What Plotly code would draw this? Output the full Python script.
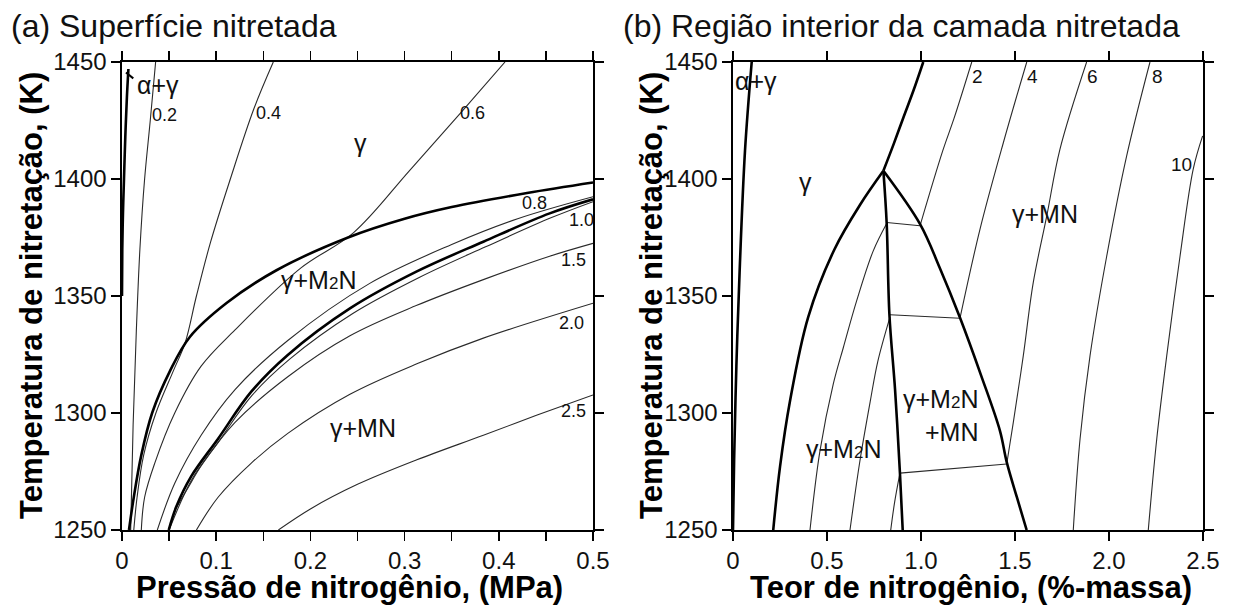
import plotly.graph_objects as go

# ---------------- Panel (a): pressure (MPa) vs temperature (K) ----------------
a_alpha_x = [0.0068, 0.0052, 0.0035, 0.0021, 0.0010, 0.0003, 0.0]
a_alpha_T = [1447, 1435, 1418, 1400, 1385, 1370, 1350]

a_c02_x = [0.0357, 0.0300, 0.0240, 0.0190, 0.0152, 0.0118, 0.0092]
a_c02_T = [1450, 1425, 1400, 1370, 1335, 1295, 1250]

a_c04_x = [0.1606, 0.1400, 0.1150, 0.0940, 0.0790, 0.0670, 0.0545, 0.0360, 0.0230, 0.0160, 0.0125]
a_c04_T = [1450, 1430, 1400, 1373, 1350, 1330, 1318, 1300, 1282, 1264, 1250]

a_c06_x = [0.4066, 0.3600, 0.3050, 0.2456, 0.1900, 0.1200, 0.0840, 0.0560, 0.0347, 0.0240, 0.0205]
a_c06_T = [1450, 1428.5, 1403.5, 1377, 1362, 1335.5, 1320, 1300, 1278.5, 1264, 1250]

a_c08_x = [0.5, 0.42, 0.35, 0.263, 0.176, 0.120, 0.084, 0.056, 0.0375]
a_c08_T = [1392.4, 1383, 1372, 1355.4, 1331, 1310, 1290.5, 1270, 1250]

a_c10_x = [0.0500, 0.0740, 0.1030, 0.1380, 0.1780, 0.2450, 0.3160, 0.3860, 0.4560, 0.5]
a_c10_T = [1250, 1271.5, 1288, 1307.5, 1323, 1342.5, 1358, 1371, 1383.5, 1390.3]

a_c15_x = [0.0577, 0.0700, 0.0850, 0.1200, 0.1760, 0.2420, 0.3130, 0.3836, 0.4540, 0.5]
a_c15_T = [1259.5, 1268, 1278, 1296, 1315.5, 1333, 1346, 1357, 1367, 1372.5]

a_c20_x = [0.079, 0.102, 0.137, 0.176, 0.242, 0.313, 0.3836, 0.5]
a_c20_T = [1250, 1264, 1278.5, 1291.3, 1308, 1321, 1332, 1346.9]

a_c25_x = [0.166, 0.200, 0.250, 0.313, 0.3836, 0.440, 0.5]
a_c25_T = [1250, 1259, 1269.5, 1280, 1290.5, 1299, 1307.7]

a_gb1_x = [0.0074, 0.0125, 0.0205, 0.0320, 0.0510, 0.0720, 0.1110, 0.1640, 0.2400, 0.3000, 0.3500, 0.4300, 0.5]
a_gb1_T = [1250, 1264, 1282, 1300, 1318, 1332.5, 1347, 1361, 1375, 1383, 1388, 1394, 1398.5]

a_gb2_x = [0.0496, 0.0577, 0.0736, 0.102, 0.137, 0.176, 0.242, 0.313, 0.3836, 0.454, 0.5]
a_gb2_T = [1250, 1260, 1273, 1289, 1309, 1324.8, 1344.7, 1360.5, 1373.2, 1385.3, 1391.3]

a_mark_x = [0.0042, 0.0120]
a_mark_T = [1445.5, 1443.0]

a_num_text = ["0.2", "0.4", "0.6", "0.8", "1.0", "1.5", "2.0", "2.5"]
a_num_x = [0.0456, 0.155, 0.3726, 0.4384, 0.4883, 0.4788, 0.4777, 0.4788]
a_num_T = [1427.3, 1428.2, 1428.2, 1389.7, 1382.5, 1365.4, 1338.5, 1300.8]

a_phase_text = ["α+γ", "γ", "γ+M<span style='font-size:17px'>2</span>N", "γ+MN"]
a_phase_x = [0.0377, 0.2527, 0.2084, 0.2562]
a_phase_T = [1440.2, 1415.3, 1356.8, 1293.4]

a_ticks = [0, 0.05, 0.1, 0.15, 0.2, 0.25, 0.3, 0.35, 0.4, 0.45, 0.5]
a_ticklabels = ["0", "", "0.1", "", "0.2", "", "0.3", "", "0.4", "", "0.5"]

# ---------------- Panel (b): nitrogen content (mass %) vs temperature ----------------
b_alpha_x = [0.0995, 0.0638, 0.0350, 0.0180, 0.0060, 0.0]
b_alpha_T = [1450, 1412, 1360, 1320, 1280, 1250]

b_top_x = [1.012, 0.959, 0.906, 0.855, 0.80]
b_top_T = [1450, 1437.6, 1426.2, 1415, 1403.5]

b_left_x = [0.80, 0.676, 0.54, 0.40, 0.303, 0.25, 0.214]
b_left_T = [1403.5, 1389, 1370, 1341, 1305, 1277, 1250]

b_right_x = [0.80, 0.995, 1.10, 1.207, 1.32, 1.42, 1.456, 1.51, 1.562]
b_right_T = [1403.5, 1380.7, 1362, 1340.8, 1316, 1292.4, 1279, 1264, 1250]

b_mid_x = [0.80, 0.8175, 0.832, 0.862, 0.888, 0.9027]
b_mid_T = [1403.5, 1381, 1342, 1310, 1274.3, 1250]

b_tie1_x = [0.8175, 0.9947]
b_tie1_T = [1381.4, 1380.0]
b_tie2_x = [0.835, 1.2074]
b_tie2_T = [1342.0, 1340.5]
b_tie3_x = [0.888, 1.456]
b_tie3_T = [1274.3, 1278.2]

b_cA_x = [0.8175, 0.746, 0.658, 0.587, 0.5335, 0.4628, 0.4096]
b_cA_T = [1381, 1369.3, 1348, 1328, 1312.4, 1283.9, 1250]
b_cB_x = [0.835, 0.77, 0.73, 0.675, 0.6223]
b_cB_T = [1341, 1322, 1305, 1279.5, 1250]
b_cC_x = [0.888, 0.86, 0.839]
b_cC_T = [1274.3, 1262, 1250]

b_c2_x = [1.27, 1.176, 1.1154, 0.9947]
b_c2_T = [1450, 1426, 1412, 1380]
b_c4_x = [1.5625, 1.438, 1.314, 1.2074]
b_c4_T = [1450, 1415.5, 1378.6, 1340.5]
b_c6_x = [1.881, 1.739, 1.669, 1.597, 1.544, 1.491, 1.456]
b_c6_T = [1450, 1412.7, 1384.2, 1355.7, 1324.4, 1296, 1278.2]
b_c8_x = [2.218, 2.094, 1.988, 1.899, 1.846, 1.81]
b_c8_T = [1450, 1409.9, 1367.1, 1324.4, 1288.9, 1250]
b_c10_x = [2.498, 2.448, 2.378, 2.307, 2.254, 2.209]
b_c10_T = [1418.4, 1404.2, 1367.1, 1324.4, 1288.9, 1250]

b_num_text = ["2", "4", "6", "8", "10"]
b_num_x = [1.303, 1.593, 1.910, 2.258, 2.387]
b_num_T = [1443.8, 1443.8, 1443.8, 1443.8, 1406.0]

b_phase_text = ["α+γ", "γ", "γ+MN", "γ+M<span style='font-size:17px'>2</span>N"]
b_phase_x = [0.1213, 0.3856, 1.66, 0.5867]
b_phase_T = [1441.9, 1398.7, 1385.1, 1284.6]
b_triple_text = "γ+M<span style='font-size:17px'>2</span>N<br>+MN"
b_triple_x = 1.314
b_triple_T = 1298.8

b_ticks = [0, 0.5, 1.0, 1.5, 2.0, 2.5]
b_ticklabels = ["0", "0.5", "1.0", "1.5", "2.0", "2.5"]

y_ticks = [1250, 1300, 1350, 1400, 1450]

# ---------------- figure ----------------
W, H = 1234, 606
FONT = "Arial, 'Liberation Sans', Helvetica, sans-serif"
THICK = dict(color="#000000", width=2.6)
THIN = dict(color="#2a2a2a", width=1.1)

fig = go.Figure()


def add_line(xs, ys, style, panel):
    ax = "x" if panel == "a" else "x2"
    ay = "y" if panel == "a" else "y2"
    fig.add_trace(go.Scatter(x=xs, y=ys, mode="lines", xaxis=ax, yaxis=ay,
                             line=dict(color=style["color"], width=style["width"],
                                       shape="spline", smoothing=1.0),
                             hoverinfo="skip", showlegend=False))


for xs, ys in [(a_c02_x, a_c02_T), (a_c04_x, a_c04_T), (a_c06_x, a_c06_T),
               (a_c08_x, a_c08_T), (a_c10_x, a_c10_T), (a_c15_x, a_c15_T),
               (a_c20_x, a_c20_T), (a_c25_x, a_c25_T)]:
    add_line(xs, ys, THIN, "a")
for xs, ys in [(a_alpha_x, a_alpha_T), (a_gb1_x, a_gb1_T), (a_gb2_x, a_gb2_T)]:
    add_line(xs, ys, THICK, "a")
add_line(a_mark_x, a_mark_T, dict(color="#000", width=2), "a")

for xs, ys in [(b_tie1_x, b_tie1_T), (b_tie2_x, b_tie2_T), (b_tie3_x, b_tie3_T),
               (b_cA_x, b_cA_T), (b_cB_x, b_cB_T), (b_cC_x, b_cC_T),
               (b_c2_x, b_c2_T), (b_c4_x, b_c4_T), (b_c6_x, b_c6_T),
               (b_c8_x, b_c8_T), (b_c10_x, b_c10_T)]:
    add_line(xs, ys, THIN, "b")
for xs, ys in [(b_alpha_x, b_alpha_T), (b_top_x, b_top_T), (b_left_x, b_left_T),
               (b_right_x, b_right_T), (b_mid_x, b_mid_T)]:
    add_line(xs, ys, THICK, "b")

ann = []
for t, x, y in zip(a_num_text, a_num_x, a_num_T):
    ann.append(dict(text=t, x=x, y=y, xref="x", yref="y", showarrow=False,
                    font=dict(size=18, color="#111", family=FONT)))
for t, x, y in zip(a_phase_text, a_phase_x, a_phase_T):
    ann.append(dict(text=t, x=x, y=y, xref="x", yref="y", showarrow=False,
                    font=dict(size=25, color="#111", family=FONT)))
for t, x, y in zip(b_num_text, b_num_x, b_num_T):
    ann.append(dict(text=t, x=x, y=y, xref="x2", yref="y2", showarrow=False,
                    font=dict(size=19, color="#111", family=FONT)))
for t, x, y in zip(b_phase_text, b_phase_x, b_phase_T):
    ann.append(dict(text=t, x=x, y=y, xref="x2", yref="y2", showarrow=False,
                    font=dict(size=25, color="#111", family=FONT)))
ann.append(dict(text=b_triple_text, x=b_triple_x, y=b_triple_T, xref="x2", yref="y2",
                showarrow=False, xanchor="right", align="right",
                font=dict(size=25, color="#111", family=FONT)))


def px(xp):
    return xp / W


def py(yp):
    return 1 - yp / H


# panel titles
ann.append(dict(text="(a) Superfície nitretada", x=px(9), y=py(26), xref="paper", yref="paper",
                xanchor="left", yanchor="middle", showarrow=False,
                font=dict(size=32, color="#111", family=FONT)))
ann.append(dict(text="(b) Região interior da camada nitretada", x=px(621), y=py(26),
                xref="paper", yref="paper", xanchor="left", yanchor="middle", showarrow=False,
                font=dict(size=32, color="#111", family=FONT)))
# axis titles
ann.append(dict(text="<b>Pressão de nitrogênio, (MPa)</b>", x=px(349), y=py(587),
                xref="paper", yref="paper", xanchor="center", yanchor="middle", showarrow=False,
                font=dict(size=31, color="#000", family=FONT)))
ann.append(dict(text="<b>Teor de nitrogênio, (%-massa)</b>", x=px(971), y=py(587),
                xref="paper", yref="paper", xanchor="center", yanchor="middle", showarrow=False,
                font=dict(size=31, color="#000", family=FONT)))
for xc in (31, 651):
    ann.append(dict(text="<b>Temperatura de nitretação, (K)</b>", x=px(xc), y=py(296),
                    xref="paper", yref="paper", xanchor="center", yanchor="middle",
                    showarrow=False, textangle=-90,
                    font=dict(size=31, color="#000", family=FONT)))

axis_common = dict(showgrid=False, zeroline=False, showline=True, linecolor="#000",
                   linewidth=1.6, mirror="allticks", ticks="outside", ticklen=9,
                   tickwidth=1.5, tickcolor="#000", automargin=False,
                   tickfont=dict(size=24, color="#111", family=FONT))

ydom = [py(530), py(62)]
fig.update_layout(
    width=W, height=H,
    margin=dict(l=0, r=0, t=0, b=0, pad=0, autoexpand=False),
    paper_bgcolor="white", plot_bgcolor="white",
    showlegend=False,
    xaxis=dict(domain=[px(122), px(593)], range=[0, 0.5], anchor="y",
               tickmode="array", tickvals=a_ticks, ticktext=a_ticklabels, **axis_common),
    yaxis=dict(domain=ydom, range=[1250, 1450], anchor="x",
               tickmode="array", tickvals=y_ticks, **axis_common),
    xaxis2=dict(domain=[px(733), px(1203)], range=[0, 2.5], anchor="y2",
                tickmode="array", tickvals=b_ticks, ticktext=b_ticklabels, **axis_common),
    yaxis2=dict(domain=ydom, range=[1250, 1450], anchor="x2",
                tickmode="array", tickvals=y_ticks, **axis_common),
    annotations=ann,
)

fig.write_html("out.html",
               config={"displayModeBar": False, "staticPlot": True},
               post_script="document.body.style.margin='0px';"
                           "document.body.style.overflow='hidden';")
